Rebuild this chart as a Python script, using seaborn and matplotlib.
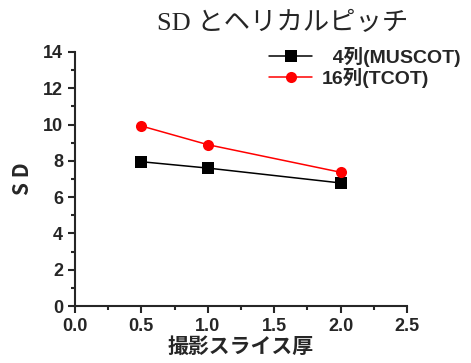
import pandas as pd
import seaborn as sns
import matplotlib.pyplot as plt
from matplotlib.ticker import MultipleLocator

thickness = [0.5, 1.0, 2.0]
sd_4row = [7.95, 7.6, 6.78]
sd_16row = [9.92, 8.89, 7.37]
series_names = ["  4列(MUSCOT)", "16列(TCOT)"]

data = pd.DataFrame({
    "thickness": thickness * 2,
    "sd": sd_4row + sd_16row,
    "series": [series_names[0]] * 3 + [series_names[1]] * 3,
})

sns.set_style("ticks")
plt.rcParams["font.family"] = ["Liberation Sans", "Noto Sans CJK JP"]
plt.rcParams["font.weight"] = "bold"

fig = plt.figure(figsize=(4.71, 3.63), dpi=100)
ax = fig.add_axes([0.159, 0.157, 0.705, 0.70])

sns.lineplot(data=data, x="thickness", y="sd", hue="series", style="series",
             palette=["black", "red"], markers=["s", "o"], dashes=False,
             markersize=8, linewidth=1.1, markeredgewidth=0, ax=ax)

ax.set_xlim(0, 2.5)
ax.set_ylim(0, 14)
ax.xaxis.set_major_locator(MultipleLocator(0.5))
ax.xaxis.set_minor_locator(MultipleLocator(0.25))
ax.yaxis.set_major_locator(MultipleLocator(2))
ax.yaxis.set_minor_locator(MultipleLocator(1))
ax.tick_params(which="major", length=5, width=1.5, labelsize=13, direction="out")
ax.tick_params(which="minor", length=3, width=1.5, direction="out")
for lbl in ax.get_xticklabels() + ax.get_yticklabels():
    lbl.set_fontweight("bold")
sns.despine(ax=ax)
for s in ["left", "bottom"]:
    ax.spines[s].set_linewidth(1.5)

ax.set_xlabel("撮影スライス厚", fontsize=15, fontweight="bold",
              family=["Noto Sans CJK JP"], labelpad=1)
ax.set_ylabel("S D", fontsize=15, fontweight="bold",
              family=["Noto Sans CJK JP"], labelpad=7)
fig.text(0.6, 0.935, "SD とヘリカルピッチ", ha="center", va="center",
         fontsize=19, fontweight="normal",
         family=["Liberation Serif", "Noto Sans CJK JP"])

leg = ax.legend(loc="upper right", bbox_to_anchor=(1.185, 1.05), frameon=False,
                fontsize=14, handlelength=2.2, handletextpad=0.5,
                labelspacing=0.05, borderaxespad=0, markerscale=1.0)
for t in leg.get_texts():
    t.set_fontweight("bold")

fig.savefig("out.png", dpi=100)
